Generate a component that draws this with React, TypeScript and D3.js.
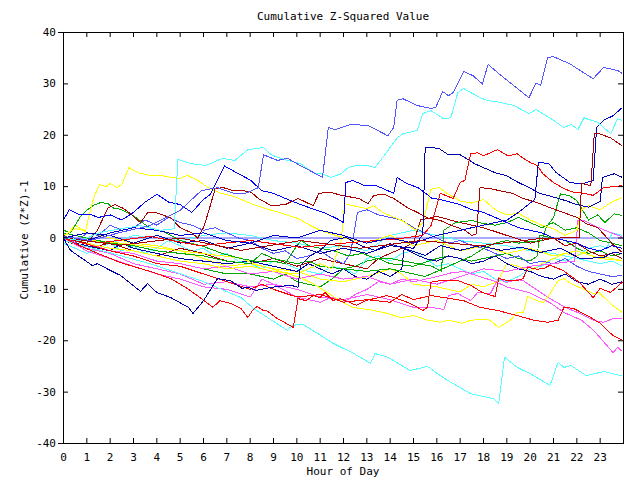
import React from "react";
import * as d3 from "d3";

type P = [number, number];

const title = "Cumulative Z-Squared Value";
const xTitle = "Hour of Day";
const yTitle = "Cumulative (Z*Z)-1";
const hourTicks = d3.range(0, 24);
const valueTicks = [-40, -30, -20, -10, 0, 10, 20, 30, 40];

const lightBlueTop: P[] = [[0,0.3],[1.15,-0.5],[2.45,1.1],[3.7,2.4],[5,5.4],[5.9,9.2],[6.6,9.8],[7.3,8.7],[7.8,8.7],[8.35,9.8],[8.57,16.2],[9.17,15.1],[9.6,15.5],[10.15,14.1],[11.1,11.8],[11.35,21.5],[11.65,21.1],[12.3,22.1],[13.05,21.9],[13.9,19.9],[14.15,21.5],[14.3,26.8],[14.55,27.1],[15.15,25.8],[15.75,25.2],[15.95,25.4],[16.25,28.5],[16.5,27.7],[16.7,28.3],[17.15,32.4],[17.55,31.6],[17.95,30],[18.2,33.8],[18.6,32.2],[19.95,27.3],[20.25,30.2],[20.45,29.7],[20.75,35.1],[21,35.3],[21.7,33.9],[22.7,31],[23.15,33.2],[23.75,32.6],[23.95,32]];
const cyanTop: P[] = [[0,0],[0.7,-0.5],[1.6,1.1],[2.45,1.8],[3.3,2.4],[4.15,1.5],[4.75,1.8],[4.9,15.3],[5.45,14.5],[6.1,14.1],[6.8,15.5],[7.35,15.1],[7.9,17.2],[8.57,17.6],[8.9,16.2],[9.45,15.3],[10.15,14.5],[10.7,12.7],[11.1,12.5],[11.45,11.8],[11.9,12.5],[12.2,13.7],[12.5,14.1],[13,14.1],[13.35,13.7],[13.9,17],[14.3,19.5],[14.55,20.3],[15.15,20.9],[15.4,24.2],[15.75,24.8],[16.3,23.2],[16.6,23.4],[16.9,28.3],[17.15,29.1],[17.85,27.3],[18.15,26.8],[18.7,26.4],[19.3,25.8],[19.95,24.2],[20.25,25],[20.9,23.2],[21.45,21.5],[21.75,22.1],[22.05,21.1],[22.3,23.4],[22.9,22.5],[23.45,20.3],[23.75,23.2],[23.95,22.9]];
const cyanBottom: P[] = [[0,-0.5],[1.6,-2.4],[3.7,-5],[5.9,-8.3],[7.6,-11.6],[8.15,-13.7],[8.75,-15.5],[9.6,-18],[9.8,-17],[10.25,-16.8],[10.9,-18.6],[11.55,-20.5],[12.45,-22.5],[13.15,-24.4],[13.35,-22.5],[13.9,-23.2],[14.85,-25.8],[15.6,-25],[16.15,-26.8],[16.6,-28.1],[17.45,-30.3],[18.45,-31.3],[18.65,-32.2],[18.9,-23.2],[19.45,-25.2],[20,-26.4],[20.85,-28.7],[21.2,-24.2],[21.45,-25.2],[21.75,-24.8],[22.4,-26.8],[23.15,-26],[23.55,-26.4],[23.95,-26.9]];
const navyLow: P[] = [[0,-0.1],[0.3,-2.4],[1.25,-5.4],[1.45,-5],[2,-6.3],[2.45,-7.3],[3.3,-10.4],[3.6,-8.9],[4,-10.6],[4.6,-11.6],[5.35,-13.5],[5.55,-14.7],[6,-12.2],[6.6,-7.9],[7.15,-8.3],[7.65,-9.8],[7.9,-9.6],[8.25,-10.2],[8.9,-9.6],[9.75,-9.2],[10.05,-9.6],[10.15,-5.4],[10.6,-3.4],[11,-2.4],[11.45,-0.5],[12.1,0.1],[12.75,-1.5],[13.35,-2.4],[14,-1.1],[14.85,-2.4],[15.5,-3.4],[16.15,-1.5],[17,-2.4],[17.85,-1.5],[18.75,-2.4],[19.6,-1.8],[20.45,-2.8],[21.3,-2],[22.15,-4],[23.15,-3.8],[23.55,-2.8],[23.95,-3]];
const redMid: P[] = [[0,0],[1.15,-2.4],[2.45,-4.8],[3.85,-6.7],[4.6,-7.9],[5.3,-9.8],[5.85,-11.6],[6.4,-13.5],[6.7,-12.2],[7.15,-12.7],[7.6,-13.7],[7.9,-15.5],[8.1,-14.1],[8.3,-13.3],[8.55,-14.1],[8.7,-14.1],[9.1,-15.5],[9.85,-17.4],[10.05,-11.8],[10.4,-12.2],[10.7,-11.2],[11,-11.6],[11.2,-10.6],[11.55,-12.2],[11.85,-11.8],[12.3,-12.6],[12.55,-13.1],[12.95,-12.2],[13.85,-11.2],[14.3,-11.8],[14.85,-12.7],[15.4,-14.1],[15.6,-13.5],[15.75,-8.6],[16.15,-8.3],[16.9,-8.3],[17.45,-9.2],[17.95,-10.6],[18.5,-11.4],[18.65,-7.9],[19.05,-8.3],[19.45,-8.3],[19.7,-7.9],[19.9,-5.7],[20.3,-6.1],[20.6,-5.9],[20.85,-5.3],[21.4,-6.3],[22.1,-8.6],[22.7,-11.6],[23,-9.8],[23.45,-10.6],[23.95,-8.6]];
const redLow: P[] = [[0,0],[1,-1.2],[2,-2.5],[3,-3.5],[4,-5],[5,-5.5],[6,-7],[7,-8.5],[8,-10],[8.5,-9],[9,-10],[10,-11.5],[11,-11],[12,-12.5],[13,-12],[14,-12.5],[14.5,-11],[15,-12],[15.75,-11.2],[17.15,-12.2],[17.85,-13.5],[18.6,-14.1],[19.45,-15.1],[20.15,-16],[20.75,-16.4],[21.2,-16],[21.45,-13.5],[21.85,-13.7],[22.45,-15.1],[23,-16.6],[23.55,-19],[23.95,-19.9]];
const yellowLow: P[] = [[0,0],[2.45,-1],[5,-2.5],[7.6,-3.9],[8.15,-5],[9.15,-6.3],[10.15,-7.7],[10.7,-8.9],[11.3,-10.6],[11.85,-12.2],[12.4,-13.5],[13.3,-14.1],[13.9,-14.7],[14.45,-15.5],[15,-15.1],[15.6,-16],[16.15,-16.4],[16.5,-16],[17.1,-16.6],[17.45,-16],[18.2,-15.8],[18.65,-17.4],[19.15,-16],[19.45,-14.5],[19.7,-14.5],[19.9,-11.4],[20.3,-12.2],[20.55,-12.6],[20.8,-11.2],[21.2,-8.3],[21.45,-7.9],[21.75,-8.9],[22.2,-9.8],[22.7,-10.8],[22.95,-10.6],[23.45,-12.8],[23.95,-14.5]];
const magentaA: P[] = [[0,0],[1,-2],[2,-3],[3,-5],[4,-6],[5,-7],[6,-9],[7,-8.5],[8,-9.5],[9,-9],[10,-10],[11,-11.5],[12,-12],[13,-11],[14,-12],[15,-13.5],[15.75,-13.5],[16.3,-13.9],[16.5,-11.2],[16.9,-10.8],[17.45,-12.2],[17.75,-10.6],[18.3,-10.8],[18.65,-7.7],[18.95,-8.7],[19.45,-8.1],[19.7,-8.3],[20.45,-10.6],[21,-12.2],[21.6,-13.7],[22.15,-14.7],[22.7,-16],[23.15,-16.4],[23.55,-15.7],[23.95,-15.7]];
const magentaB: P[] = [[0,0],[1,-2.5],[2,-4],[3,-5.5],[4,-7],[5,-8],[6,-9.5],[7,-10],[8,-11.5],[8.5,-8],[9,-9],[10,-11.5],[11,-12.5],[11.5,-11.5],[12,-12.5],[12.5,-11],[13,-10],[13.5,-8.5],[14,-9],[14.5,-8],[15,-8.5],[15.75,-7.8],[16.6,-6.8],[17.15,-6.5],[17.55,-7.1],[18.4,-8.3],[19.05,-9.6],[19.95,-10.6],[20.85,-12.6],[21.45,-14.5],[22.2,-16],[22.7,-17.9],[23.15,-20.2],[23.55,-22.3],[23.75,-21.3],[23.95,-22.1]];
const magentaC: P[] = [[0,0],[1,-1],[2,-2.5],[3,-3],[4,-4.5],[5,-5],[6,-6],[7,-5.5],[8,-7],[9,-6.5],[10,-8],[11,-7],[12,-8],[13,-7.5],[14,-9],[15,-8],[16,-9],[17,-7.5],[18,-6],[19,-6.5],[20,-5.5],[21,-5],[21.9,-4.5],[22.05,3.4],[22.3,3.4],[22.7,2.5],[23.2,1.5],[23.6,0.8],[23.95,0.2]];
const redHigh: P[] = [[0,0],[1.6,-0.9],[3.7,0.3],[5.85,-1.5],[8,-0.5],[10.15,-1.8],[12.3,-0.9],[14.45,-0.1],[15.4,0.5],[15.75,2.4],[16.15,8.7],[16.7,7.7],[17,10.8],[17.2,11.2],[17.45,16.4],[17.75,16.6],[18,16],[18.6,17.2],[19.05,16],[19.45,16.4],[19.65,15.7],[20,14.7],[20.3,14.1],[20.55,12.5],[21,10.8],[21.45,9.6],[21.85,8.9],[22.3,8.7],[22.7,8.3],[23.15,9.8],[23.6,10],[23.95,10.2]];
const darkRedJump: P[] = [[0,0],[2.45,-1.4],[5,0],[7.6,-2.4],[10.15,-0.5],[12.7,-2],[15.3,-0.5],[17.85,-1.5],[20.45,-0.1],[22.1,0.1],[22.2,10.6],[22.6,10.2],[22.75,20.3],[22.95,20.3],[23.45,19.5],[23.95,17.9]];
const navyJump: P[] = [[0,0],[1,1],[2,0.5],[3,-1],[4,0.5],[5,-1],[6,-0.5],[7,-2],[8,-1],[9,-2.5],[10,-1.5],[11,-3],[12,-2],[13,-3],[14,-1.5],[15,-2],[15.4,0.8],[15.5,17.6],[15.8,17.6],[16.1,17.4],[16.5,16.2],[17,16.2],[17.4,15.1],[17.6,14.5],[18,13.7],[18.5,12.7],[19,12.1],[19.5,10.8],[20,9.7],[20.4,8.7],[20.9,8.1],[21.5,7.3],[22,6.5],[22.5,6],[23,7.1],[23.1,11.8],[23.6,12.5],[23.95,11.8]];
const navyEnd: P[] = [[0,0],[1,-0.5],[2,1],[3,2],[4,1.5],[5,0.5],[6,1],[7,-0.5],[8,-1],[9,0.5],[10,0],[11,1.5],[12,0.5],[13,-1],[14,0],[15,-1],[16,0.5],[17,1.5],[18,2.5],[19,3.5],[19.5,5],[20.2,7.5],[20.35,14.7],[20.8,14.5],[21.1,12.8],[21.7,10.8],[22.2,10.5],[22.7,11.2],[22.85,21.5],[23.15,22.9],[23.55,23.8],[23.95,25.4]];
const blueUpper: P[] = [[0,3.5],[0.25,5.5],[0.7,4.5],[1.2,4.5],[1.5,4],[2,4.5],[2.5,3.5],[3,5],[3.5,7],[4,8.5],[4.5,7],[5,6.5],[5.5,5],[6,7.5],[6.3,8.5],[6.9,14],[7.5,12.5],[8,11.3],[8.5,9.2],[9,8.7],[9.5,7.7],[10,6.8],[10.6,5.8],[11.2,4.9],[11.7,3.8],[12,3],[12.1,10.8],[12.4,11.2],[12.9,10.2],[13.4,10.2],[13.9,9.2],[14.15,8.7],[14.3,11.8],[14.7,10.6],[15.2,9.8],[15.8,7.7],[16.15,7.5],[17,6.5],[17.5,5.5],[18,5],[18.5,4],[19,3],[19.5,2],[20,1.5],[20.5,1],[21,0],[21.5,-0.5],[22,-1],[22.5,-2],[23,-2.5],[23.5,-1.5],[23.95,-2]];
const greenA: P[] = [[0,1.5],[0.3,1],[0.7,4],[1,5.4],[1.3,6.4],[1.6,6.9],[1.9,6.7],[2.15,5.8],[2.45,5.6],[2.75,4.9],[3.15,3.9],[3.4,2.9],[3.7,2],[4.15,1.5],[4.6,0.5],[5,-0.5],[5.9,-1.5],[6.8,-3],[7.6,-4],[8.2,-4.5],[9,-4.5],[9.5,-5],[10,-1.5],[10.2,-0.5],[10.5,-1.5],[11,-2],[11.6,-2.5],[12.2,-3.5],[12.8,-3],[13.4,-4],[14,-4],[14.6,-4.5],[15.2,-5],[15.8,-5.5],[16.2,-6.5],[16.3,1.5],[16.8,3],[17.5,3.4],[18,2.8],[18.5,2.5],[19,3],[19.5,4],[20,3],[20.5,2],[21,3],[21.5,1.5],[22,2],[22.5,1],[23,-0.5],[23.5,-1],[23.95,-1.5]];
const greenB: P[] = [[0,1],[1,0],[2,-1],[3,-1.5],[4,-2.5],[5,-3],[6,-3.5],[7,-4.5],[8,-5],[8.5,-3],[9,-4],[10,-5],[10.5,-4.5],[11,-5.5],[12,-6],[13,-6.5],[14,-6],[15,-7],[15.5,-7.5],[16,-6.5],[16.5,-5.5],[17,-4.5],[17.5,-3.5],[18,-2],[18.5,-1],[19,-0.5],[19.5,-1],[20,-0.7],[20.5,-0.5],[20.7,2.2],[21,4],[21.3,8.6],[21.7,8.2],[22,7.3],[22.5,3.5],[22.9,4.5],[23.2,3],[23.6,4.7],[23.95,4.4]];
const greenC: P[] = [[0,0],[1,-1],[2,-2.5],[3,-3],[4,-4.5],[5,-5],[6,-6],[7,-7],[8,-7],[9,-8],[9.5,-7],[10,-8.5],[11,-9.5],[11.5,-8],[12,-6],[12.5,-5.5],[13,-4.5],[13.5,-4],[14,-5],[15,-5.5],[16,-4],[16.5,-3.5],[17,-4],[17.5,-4.5],[18,-4],[18.5,-3.5],[19,-3],[19.5,-4],[20,-4.5],[20.3,-3.5],[20.4,0.5],[21,0],[21.5,-0.5],[22,-2],[22.5,-3],[23,-2.5],[23.5,-3.5],[23.95,-3]];
const yellowPeak: P[] = [[0,0.5],[0.5,1.8],[0.95,1.5],[1.15,5.4],[1.3,7.9],[1.55,10.4],[1.8,10],[2,10.6],[2.3,9.8],[2.5,10.4],[2.8,13.7],[3.2,12.7],[3.7,12.2],[4.15,12.2],[4.6,11.8],[5,11.6],[5.3,12.2],[5.75,11.2],[6.2,9.8],[6.75,8.7],[7.3,8.1],[8.15,6.5],[8.75,5.6],[9.3,4.9],[10.05,3.8],[10.6,2.4],[11,1.5],[12,0],[13,-1],[14,0.5],[15,-1.5],[16,-0.5],[17,-2.5],[18,-1.5],[19,-3],[20,-2],[21,-3.5],[22,-2.5],[23,-4],[23.95,-4.4]];
const yellowJump: P[] = [[0,0.5],[1,-1],[2,-2],[3,-2.5],[4,-3.5],[5,-4.5],[6,-5],[7,-6],[8,-5.5],[9,-6.5],[10,-7],[11,-5],[11.5,-6],[11.9,-0.5],[12.05,6.7],[12.4,6.3],[13,5.7],[13.3,6.3],[13.7,4.9],[14.5,3.4],[15.1,1.5],[15.4,3],[15.75,9.5],[16.1,9.8],[16.5,8.5],[17,7.2],[17.5,6.8],[18,7.5],[18.5,5.5],[19,4.5],[19.5,4.8],[20,3.5],[20.5,2.5],[21,1.8],[21.5,0.5],[22,1.5],[22.2,5.5],[22.5,6.3],[23,5.5],[23.5,7],[23.95,7.9]];
const yellowMid: P[] = [[0,0],[0.5,2.5],[1,1],[2,0],[3,-1],[4,-1.5],[5,-2.5],[6,-4],[7,-5.5],[8,-5],[9,-6],[10,-6.5],[11,-8],[12,-8.5],[13,-7.5],[14,-6],[14.5,-7],[15,-9],[16,-9.5],[17,-10.5],[17.5,-9],[18,-9.5],[18.6,-8.5],[19,-5],[19.5,-5.5],[20,-6.5],[20.5,-5],[21,-4],[21.5,-3],[22,-3.5],[22.5,-2.5],[23,-3.5],[23.5,-4],[23.95,-4.4]];
const darkRedPeak: P[] = [[0,0.5],[0.5,-0.5],[1,-1],[1.45,1.5],[1.9,5.8],[2.2,6.5],[2.55,5.8],[2.85,4.8],[3.3,3],[3.6,4.9],[4,4.9],[4.6,3.9],[5,2],[5.5,1],[5.75,0],[6,2],[6.2,4.9],[6.5,9.6],[6.85,9.8],[7.3,9.2],[7.7,9.2],[8.05,8.9],[8.35,7.7],[8.9,6.3],[9.5,6.5],[10.05,7.7],[10.7,6.3],[10.95,8.7],[11.45,8.9],[11.9,8.3],[12.65,7.7],[13.05,6.7],[13.3,8.3],[13.75,8.5],[14.15,7.7],[14.75,5.9],[15.2,4.9],[15.6,3.9],[16.15,3.4],[16.6,2.5],[17.2,1.5],[17.5,0.5],[17.7,0.8],[17.85,9.8],[18.3,9.6],[18.7,9.2],[19.25,8.7],[19.7,7.7],[20.3,6.9],[20.85,5.9],[21.4,5],[22,4],[22.4,2.8],[22.9,2],[23.3,0],[23.6,-1.5],[23.95,-2.8]];
const darkRedLow: P[] = [[0,-0.5],[1,-2],[2,-1],[3,-2.5],[4,-3.5],[5,-2],[6,-3],[7,-4.5],[8,-5],[9,-4],[10,-5.5],[11,-4],[12,-5],[13,-6],[13.5,-4],[14,-3],[15,-1],[15.3,3.5],[16,4.2],[17,3],[18,2],[19,0.5],[20,-1],[21,0],[21.5,-1.5],[22,-1],[22.5,-2.5],[23,-3.5],[23.5,-3],[23.95,-4]];
const lightBlueMid: P[] = [[0,0.5],[0.5,-1],[1,1],[1.5,0.5],[2,2.5],[2.5,1.5],[3,2],[3.5,3.5],[4,2.5],[4.5,4],[5,3],[5.5,2.5],[6,1.5],[6.5,2],[7,1],[7.5,0],[8,-0.5],[8.5,-2],[9,-3],[9.5,-2.5],[10,-4],[10.5,-3.5],[11,-2.5],[11.5,-4],[12,-5],[12.3,-3],[12.6,5],[13,5.5],[13.5,4.5],[14,4],[14.5,3.5],[15,2],[15.5,1],[16,0],[16.5,-1],[17,-0.5],[17.5,-1.5],[18,-2],[18.5,-3],[19,-4],[19.5,-3.5],[20,-5],[20.5,-4.5],[21,-5],[21.5,-4],[22,-5.5],[22.5,-6.5],[23,-7],[23.5,-7.5],[23.95,-7.3]];
const cyanMid: P[] = [[0,-1],[0.5,-2],[1,-3],[1.5,-2],[2,-1],[2.5,-2.5],[3,-1.5],[3.5,-3],[4,-2],[4.5,-0.5],[5,-1.5],[5.5,-2.5],[6,-2],[6.5,-3.5],[7,-3],[7.5,-4.5],[8,-5],[8.5,-6],[9,-4.5],[9.5,-5],[10,-6],[10.5,-6.5],[11,-7],[11.5,-5.5],[12,-6],[12.5,-7],[13,-4],[13.5,-3.5],[14,-4.5],[14.5,-3],[15,-2.5],[15.5,-4],[16,-5.5],[16.5,-5],[17,-6],[17.5,-7],[18,-6.5],[18.5,-8],[19,-8.5],[19.5,-7.5],[20,-6],[20.5,-5.5],[21,-4],[21.5,-4.5],[22,-3.5],[22.5,-2],[23,-1.5],[23.3,-2],[23.5,1],[23.95,0.5]];
const cyanFlat: P[] = [[0,0],[1,-0.5],[2,-1],[3,0.5],[4,0],[5,-0.5],[6,0.5],[7,1],[8,0.5],[9,-0.5],[10,-1],[11,-2],[12,-1.5],[13,-2.5],[14,0.5],[15,1.5],[16,0.5],[17,-0.5],[18,-1],[19,-1.5],[20,-2.5],[21,-3],[22,-4],[22.5,-4.5],[23,-5],[23.5,-4.5],[23.95,-5.5]];
const navyDrift: P[] = [[0,-0.5],[1,-1.5],[2,-2.5],[2.5,-1],[3,-2],[4,-3],[5,-4],[6,-4.5],[7,-5],[8,-4.5],[9,-5.5],[10,-6.5],[10.5,-5],[11,-6],[11.5,-7],[12,-6],[12.5,-7.5],[13,-8],[13.5,-6.5],[14,-7.5],[14.5,-6],[14.6,-2],[15,-3],[15.5,-4],[16,-4.5],[16.5,-3.5],[17,-4],[17.5,-5],[18,-4.5],[18.5,-3.5],[19,-5],[19.5,-6],[20,-6.5],[20.5,-7.5],[21,-8],[21.5,-7],[22,-8.5],[22.5,-9],[23,-8],[23.5,-9],[23.95,-8.5]];

const seriesList: { data: P[]; color: string }[] = [
  { data: greenC, color: "#00aa00" },
  { data: cyanFlat, color: "#55ffff" },
  { data: cyanMid, color: "#55ffff" },
  { data: yellowMid, color: "#ffff00" },
  { data: darkRedLow, color: "#aa0000" },
  { data: navyDrift, color: "#0000aa" },
  { data: lightBlueMid, color: "#5555ff" },
  { data: magentaC, color: "#ff55ff" },
  { data: magentaA, color: "#ff55ff" },
  { data: magentaB, color: "#ff55ff" },
  { data: yellowLow, color: "#ffff00" },
  { data: redLow, color: "#ff0000" },
  { data: cyanBottom, color: "#55ffff" },
  { data: greenB, color: "#00aa00" },
  { data: greenA, color: "#00aa00" },
  { data: yellowJump, color: "#ffff00" },
  { data: yellowPeak, color: "#ffff00" },
  { data: darkRedPeak, color: "#aa0000" },
  { data: redMid, color: "#ff0000" },
  { data: navyLow, color: "#0000aa" },
  { data: blueUpper, color: "#0000ff" },
  { data: navyJump, color: "#0000aa" },
  { data: redHigh, color: "#ff0000" },
  { data: navyEnd, color: "#0000cc" },
  { data: darkRedJump, color: "#aa0000" },
  { data: cyanTop, color: "#55ffff" },
  { data: lightBlueTop, color: "#5555ff" },
];

const W = 640, H = 480;
const L = 63, R = 623, T = 32, B = 443;
const FONT = "'DejaVu Sans Mono', monospace";

export default function App() {
  const x = d3.scaleLinear().domain([0, 24]).range([L, R]);
  const y = d3.scaleLinear().domain([-40, 40]).range([B, T]);
  const line = d3.line<P>().x((d) => x(d[0]) + 0.5).y((d) => y(d[1]) + 0.5);
  const tl = 5;
  return (
    <svg width={W} height={H} style={{ position: "absolute", left: 0, top: 0, background: "#fff" }}>
      <rect x={0} y={0} width={W} height={H} fill="#fff" />
      <defs>
        <clipPath id="plot">
          <rect x={L} y={T} width={R - L + 1} height={B - T + 1} />
        </clipPath>
      </defs>
      <g clipPath="url(#plot)">
        <line x1={L} x2={R} y1={y(0) + 0.5} y2={y(0) + 0.5} stroke="#5555ff" strokeWidth={1} />
        {seriesList.map((s, i) => (
          <path key={i} d={line(s.data) || ""} fill="none" stroke={s.color} strokeWidth={1} shapeRendering="crispEdges" />
        ))}
      </g>
      <rect x={L + 0.5} y={T + 0.5} width={R - L} height={B - T} fill="none" stroke="#000" strokeWidth={1} />
      {hourTicks.map((h) => (
        <g key={"h" + h}>
          <line x1={x(h) + 0.5} x2={x(h) + 0.5} y1={B} y2={B - tl} stroke="#000" />
          <line x1={x(h) + 0.5} x2={x(h) + 0.5} y1={T} y2={T + tl} stroke="#000" />
          <text x={x(h) + 0.5} y={461} textAnchor="middle" fontFamily={FONT} fontSize={11} fill="#000">{h}</text>
        </g>
      ))}
      {valueTicks.map((v) => (
        <g key={"v" + v}>
          <line x1={L} x2={L + tl} y1={y(v) + 0.5} y2={y(v) + 0.5} stroke="#000" />
          <line x1={R - tl} x2={R} y1={y(v) + 0.5} y2={y(v) + 0.5} stroke="#000" />
          {(v === 40 || v === -40) && (
            <line x1={L - tl} x2={L} y1={y(v) + 0.5} y2={y(v) + 0.5} stroke="#000" />
          )}
          <text x={56} y={y(v) + 4} textAnchor="end" fontFamily={FONT} fontSize={11} fill="#000">{v}</text>
        </g>
      ))}
      <text x={343} y={20} textAnchor="middle" fontFamily={FONT} fontSize={11} fill="#000">{title}</text>
      <text x={343} y={475} textAnchor="middle" fontFamily={FONT} fontSize={11} fill="#000">{xTitle}</text>
      <text transform={`translate(28,240) rotate(-90)`} textAnchor="middle" fontFamily={FONT} fontSize={11} fill="#000">{yTitle}</text>
    </svg>
  );
}
